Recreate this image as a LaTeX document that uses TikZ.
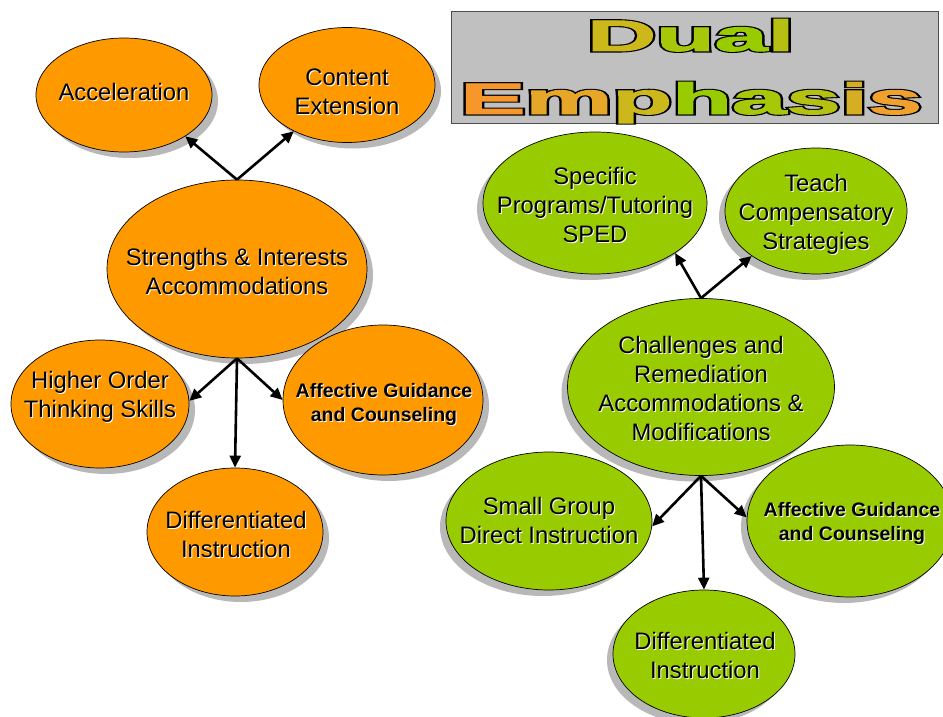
\documentclass[tikz,border=0pt]{standalone}
\usepackage{fontspec}
\setmainfont{Liberation Sans}
\newfontfamily\titlefont{Liberation Sans}[BoldFeatures={FakeBold=2}]
\newfontfamily\titleout{Liberation Sans}[BoldFeatures={FakeBold=7}]
\usetikzlibrary{arrows.meta,shapes.geometric}
\definecolor{orng}{HTML}{FF9900}
\definecolor{grn}{HTML}{99CC00}
\definecolor{shgrey}{HTML}{B8B8B8}
\definecolor{boxgrey}{HTML}{C0C0C0}
\definecolor{tA}{HTML}{F7962A}
\definecolor{tB}{HTML}{E6A628}
\definecolor{tC}{HTML}{CCB81A}
\definecolor{tD}{HTML}{A6C808}
\definecolor{tE}{HTML}{99CC00}
\definecolor{tF}{HTML}{B6C012}
\definecolor{tG}{HTML}{D6AE24}
\definecolor{tH}{HTML}{F0A02C}
\newif\ifblk
\newcommand\lc[2]{\ifblk#2\else\textcolor{#1}{#2}\fi}
\newcommand\wordEm{\lc{tA}{E}\lc{tB}{m}\lc{tC}{p}\lc{tE}{h}\lc{tD}{a}\lc{tF}{s}\lc{tG}{i}\lc{tH}{s}}
\newcommand\wordDu{\lc{tC}{D}\lc{tD}{u}\lc{tE}{a}\lc{tF}{l}}
\newcommand\lbl[4][]{%
  \node[txt,#1,text=white] at (#2+1,#3+1) {#4};
  \node[txt,#1] at (#2,#3) {#4};}
\tikzset{
  bub/.style={ellipse, draw=black, line width=0.7pt, inner sep=0pt},
  shd/.style={ellipse, fill=shgrey, inner sep=0pt},
  txt/.style={align=center, inner sep=0pt, font=\fontsize{23.8}{29}\selectfont},
  btxt/.style={font=\fontsize{19.5}{24}\selectfont\bfseries},
  arr/.style={-{Triangle[length=12pt,width=11pt]}, line width=2.6pt, black},
  ttl/.style={inner sep=0pt, anchor=base west, font=\fontsize{44}{50}\titlefont\bfseries},
  ttlo/.style={inner sep=0pt, anchor=base west, text=black, font=\fontsize{44}{50}\titleout\bfseries}
}
\begin{document}
\begin{tikzpicture}[x=1pt,y=-1pt]
\useasboundingbox (0,0) rectangle (943,717);
\clip (0,0) rectangle (943,717);
\fill[white] (0,0) rectangle (943,717);

% Title box
\node[draw=black!70, fill=boxgrey, line width=0.8pt, minimum width=487pt, minimum height=112pt, inner sep=0pt, anchor=north west] (tbox) at (451,11) {};
\node[ttlo] (dualo) at (587,51) {\blktrue\resizebox{207pt}{\height}{\wordDu}};
\node[ttlo] (empho) at (460,114) {\blktrue\resizebox{462pt}{\height}{\wordEm}};
\node[ttl] (dual) at (587,51) {\blkfalse\resizebox{207pt}{\height}{\wordDu}};
\node[ttl] (emph) at (460,114) {\blkfalse\resizebox{462pt}{\height}{\wordEm}};

% ---------- Left group (orange) ----------
\node[shd, minimum width=176pt, minimum height=114pt] at (130,101) {};
\node[bub, fill=orng, minimum width=176pt, minimum height=114pt] (acc) at (124,95) {};
\lbl{124}{92}{Acceleration}

\node[shd, minimum width=176pt, minimum height=115pt] at (353,91) {};
\node[bub, fill=orng, minimum width=176pt, minimum height=115pt] (cont) at (347,85) {};
\lbl{347}{92}{Content\\Extension}

\node[shd, minimum width=260pt, minimum height=178pt] at (243,275) {};
\node[bub, fill=orng, minimum width=260pt, minimum height=178pt] (str) at (237,269) {};
\lbl{237}{271}{Strengths \& Interests\\Accommodations}

\node[shd, minimum width=178pt, minimum height=128pt] at (106,410) {};
\node[bub, fill=orng, minimum width=178pt, minimum height=128pt] (hot) at (100,404) {};
\lbl{100}{397}{Higher Order\\Thinking Skills}

\node[shd, minimum width=200pt, minimum height=150pt] at (389,406) {};
\node[bub, fill=orng, minimum width=200pt, minimum height=150pt] (affl) at (383,400) {};
\lbl[btxt]{384}{404}{Affective Guidance\\and Counseling}

\node[shd, minimum width=176pt, minimum height=128pt] at (241,538) {};
\node[bub, fill=orng, minimum width=176pt, minimum height=128pt] (difl) at (235,532) {};
\lbl{236}{534}{Differentiated\\Instruction}

\draw[arr] (str.north) -- (acc.-34);
\draw[arr] (str.north) -- (cont.221);
\draw[arr] (str.south) -- (hot.2);
\draw[arr] (str.south) -- (affl.180);
\draw[arr] (str.south) -- (difl.north);

% ---------- Right group (green) ----------
\node[shd, minimum width=224pt, minimum height=142pt] at (589,209) {};
\node[bub, fill=grn, minimum width=224pt, minimum height=142pt] (spec) at (595,203) {};
\lbl{595}{205}{Specific\\Programs/Tutoring\\SPED}

\node[shd, minimum width=182pt, minimum height=126pt] at (810,217) {};
\node[bub, fill=grn, minimum width=182pt, minimum height=126pt] (teach) at (816,211) {};
\lbl{816}{214}{Teach\\Compensatory\\Strategies}

\node[shd, minimum width=267pt, minimum height=177pt] at (695,393) {};
\node[bub, fill=grn, minimum width=267pt, minimum height=177pt] (chal) at (701,387) {};
\lbl{701}{388}{Challenges and\\Remediation\\Accommodations \&\\Modifications}

\node[shd, minimum width=206pt, minimum height=138pt] at (543,527) {};
\node[bub, fill=grn, minimum width=206pt, minimum height=138pt] (small) at (549,521) {};
\lbl{549}{520}{Small Group\\Direct Instruction}

\node[shd, minimum width=206pt, minimum height=152pt] at (844,527) {};
\node[bub, fill=grn, minimum width=206pt, minimum height=152pt] (affr) at (850,521) {};
\lbl[btxt]{852}{523}{Affective Guidance\\and Counseling}

\node[shd, minimum width=182pt, minimum height=128pt] at (698,660) {};
\node[bub, fill=grn, minimum width=182pt, minimum height=128pt] (difr) at (704,654) {};
\lbl{705}{655}{Differentiated\\Instruction}

\draw[arr] (chal.north) -- (spec.-32);
\draw[arr] (chal.north) -- (teach.215);
\draw[arr] (chal.south) -- (small.-3);
\draw[arr] (chal.south) -- (affr.178);
\draw[arr] (chal.south) -- (difr.north);
\end{tikzpicture}
\end{document}
